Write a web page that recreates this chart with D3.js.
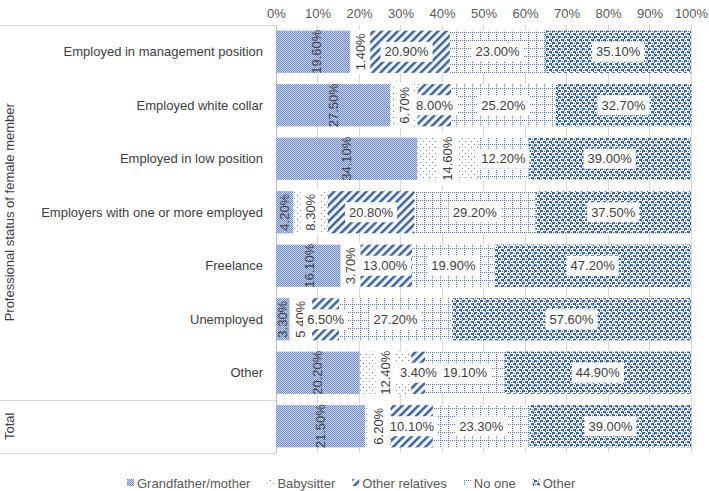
<!DOCTYPE html>
<html><head><meta charset="utf-8">
<script src="https://cdn.jsdelivr.net/npm/d3@7"></script>
<style>body{margin:0;background:#fff}svg{display:block;font-family:"Liberation Sans",Arial,sans-serif}</style>
</head><body><svg id="c" width="709" height="491"></svg>
<script>
const categories = ["Employed in management position","Employed white collar","Employed in low position ","Employers with one or more employed","Freelance","Unemployed","Other","Total"];
const seriesNames = ["Grandfather/mother","Babysitter","Other relatives","No one","Other"];
const grandparents = [19.6,27.5,34.1,4.2,16.1,3.3,20.2,21.5];
const babysitter   = [1.4,6.7,14.6,8.3,3.7,5.4,12.4,6.2];
const relatives    = [20.9,8.0,0,20.8,13.0,6.5,3.4,10.1];
const noOne        = [23.0,25.2,12.2,29.2,19.9,27.2,19.1,23.3];
const other        = [35.1,32.7,39.0,37.5,47.2,57.6,44.9,39.0];
const ticks = [0,10,20,30,40,50,60,70,80,90,100];
const groupTitles = ["Professional status of female member","Total"];

const series = [grandparents,babysitter,relatives,noOne,other];
const svg = d3.select("#c");
const defs = svg.append("defs");
const B = "#3461b1";

function pat(id,w,h,fn,tr){const p=defs.append("pattern").attr("id",id).attr("patternUnits","userSpaceOnUse").attr("width",w).attr("height",h);if(tr)p.attr("patternTransform",tr);fn(p);}
pat("p0",2,2,p=>{p.append("rect").attr("width",2).attr("height",2).attr("fill","#c9d5ef");p.append("rect").attr("width",1).attr("height",1).attr("fill","#6f8bc9");p.append("rect").attr("x",1).attr("y",1).attr("width",1).attr("height",1).attr("fill","#6f8bc9");});
pat("p1",6,6,p=>{p.append("rect").attr("width",6).attr("height",6).attr("fill","#fff");p.append("rect").attr("width",1).attr("height",1).attr("fill","#6d8fd0");p.append("rect").attr("x",3).attr("y",3).attr("width",1).attr("height",1).attr("fill","#6d8fd0");});
pat("p2",5.7,5.7,p=>{p.append("rect").attr("width",5.7).attr("height",5.7).attr("fill","#fff");p.append("rect").attr("width",2.5).attr("height",5.7).attr("fill",B);},"rotate(45)");
pat("p3",8,8,p=>{p.append("rect").attr("width",8).attr("height",8).attr("fill","#fff");for(let i=0;i<8;i+=2){p.append("rect").attr("x",i).attr("y",0).attr("width",1).attr("height",1).attr("fill","#4a74c4");p.append("rect").attr("x",0).attr("y",i).attr("width",1).attr("height",1).attr("fill","#4a74c4");}});
pat("p4",6,6,p=>{p.append("rect").attr("width",6).attr("height",6).attr("fill","#fff");[[0,0,3,2],[3,3,3,2],[4,1,1,1],[1,4,1,1],[0,2,1,1],[5,5,1,1]].forEach(r=>p.append("rect").attr("x",r[0]).attr("y",r[1]).attr("width",r[2]).attr("height",r[3]).attr("fill",B));});

const x = d3.scaleLinear().domain([0,100]).range([276,691]);
const y = d3.scaleBand().domain(categories).range([25,453]).paddingInner(0.21).paddingOuter(0.105);
const step = y.step();

svg.append("g").selectAll("line").data(ticks).join("line")
  .attr("x1",d=>x(d)).attr("x2",d=>x(d)).attr("y1",25).attr("y2",453)
  .attr("stroke","#d9d9d9").attr("stroke-width",1).attr("shape-rendering","crispEdges");

const ax = svg.append("g").attr("transform","translate(0,25)")
  .call(d3.axisTop(x).tickValues(ticks).tickFormat(d=>d+"%").tickSize(0).tickPadding(7));
ax.select(".domain").remove();
ax.selectAll("text").attr("font-size",13).attr("fill","#595959").attr("font-family","Liberation Sans, Arial");

const lg = svg.append("g").attr("stroke","#d9d9d9").attr("shape-rendering","crispEdges");
lg.append("line").attr("x1",276).attr("x2",276).attr("y1",25).attr("y2",453).attr("stroke","#bfbfbf");
const sepY = [25, y("Total")-step*y.paddingInner()/2, 453];
sepY.forEach(v=>lg.append("line").attr("x1",0).attr("x2",276).attr("y1",Math.round(v)).attr("y2",Math.round(v)));

svg.append("g").selectAll("text").data(categories.slice(0,7)).join("text")
  .attr("x",263).attr("y",d=>y(d)+y.bandwidth()/2).attr("dy","0.35em")
  .attr("text-anchor","end").attr("font-size",13).attr("fill","#404040").text(d=>d);

const g1c = (25+sepY[1])/2, g2c=(sepY[1]+453)/2;
[[groupTitles[0],g1c],[groupTitles[1],g2c]].forEach(([t,cy])=>{
  svg.append("text").attr("transform",`translate(14,${cy}) rotate(-90)`).attr("text-anchor","middle")
   .attr("font-size",13).attr("fill","#404040").text(t);
});

const rows = categories.map((c,i)=>{const o={cat:c};seriesNames.forEach((s,j)=>o[s]=series[j][i]);return o;});
const stack = d3.stack().keys(seriesNames)(rows);
const bars = svg.append("g");
stack.forEach((layer,j)=>{
  bars.append("g").attr("fill",`url(#p${j})`).selectAll("rect").data(layer).join("rect")
   .attr("x",d=>x(d[0])).attr("width",d=>x(d[1])-x(d[0]))
   .attr("y",d=>y(d.data.cat)).attr("height",y.bandwidth());
});

const lab = svg.append("g").attr("font-size",13).attr("fill","#404040");
stack.forEach((layer,j)=>{
  layer.forEach(d=>{
    const v=d[1]-d[0]; if(v<=0) return;
    const cx=(x(d[0])+x(d[1]))/2, cy=y(d.data.cat)+y.bandwidth()/2;
    const txt=v.toFixed(2)+"%";
    const rot = j<2;
    const g=lab.append("g").attr("transform",`translate(${cx},${cy})`+(rot?" rotate(-90)":""));
    const t=g.append("text").attr("text-anchor","middle").attr("dy","0.35em").text(txt);
    if(j>0){
      const w=t.node().getComputedTextLength();
      g.insert("rect","text").attr("x",-w/2-4).attr("y",-10).attr("width",w+8).attr("height",20).attr("fill","#fff");
    }
  });
});

const leg = svg.append("g").attr("font-size",13).attr("fill","#595959");
let lx=127;
seriesNames.forEach((s,j)=>{
  leg.append("rect").attr("x",lx).attr("y",479).attr("width",7).attr("height",7).attr("fill",`url(#p${j})`);
  const t=leg.append("text").attr("x",lx+10).attr("y",483).attr("dy","0.35em").text(s);
  lx += 10 + t.node().getComputedTextLength() + 17;
});
</script></body></html>
